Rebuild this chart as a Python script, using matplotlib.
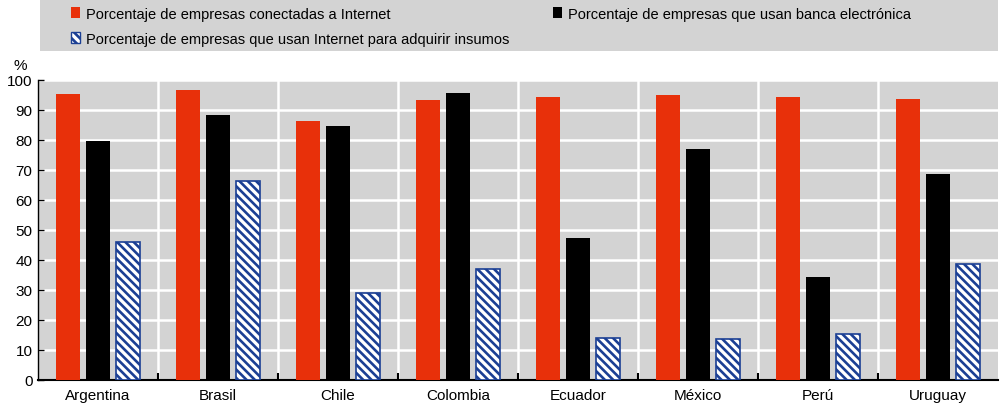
import matplotlib.pyplot as plt
import numpy as np
from matplotlib.patches import Patch, Rectangle

plt.rcParams['font.family'] = ['Liberation Sans', 'DejaVu Sans']

countries = ['Argentina', 'Brasil', 'Chile', 'Colombia', 'Ecuador', 'México', 'Perú', 'Uruguay']
conectadas = [95.2, 96.8, 86.4, 93.2, 94.3, 94.9, 94.3, 93.8]
banca = [79.8, 88.3, 84.6, 95.8, 47.2, 76.9, 34.3, 68.6]
insumos = [46.0, 66.2, 28.9, 37.1, 13.9, 13.5, 15.3, 38.6]

labels = ['Porcentaje de empresas conectadas a Internet',
          'Porcentaje de empresas que usan banca electrónica',
          'Porcentaje de empresas que usan Internet para adquirir insumos']

red = '#E8300A'
blue = '#1B3F94'
grey = '#D3D3D3'

fig = plt.figure(figsize=(10, 4.06), dpi=100)
ax = fig.add_axes([0.038, 0.0616, 0.96, 0.739])
ax.set_facecolor(grey)

x = np.arange(len(countries))
w = 0.2
plt.rcParams['hatch.linewidth'] = 1.9
ax.bar(x - 0.25, conectadas, w, color=red, zorder=3)
ax.bar(x, banca, w, color='black', zorder=3)
ax.bar(x + 0.25, insumos, w, color='white', edgecolor=blue, hatch='\\\\\\\\', linewidth=1.2, zorder=3)

ax.set_xlim(-0.5, len(countries) - 0.5)
ax.set_ylim(0, 100)
ax.set_yticks(range(0, 101, 10))
ax.set_xticks(x)
ax.set_xticklabels(countries, fontsize=11)
ax.tick_params(axis='x', which='major', length=0, pad=6)
ax.set_xticks(np.arange(0.5, len(countries) - 0.5, 1), minor=True)
ax.tick_params(axis='x', which='minor', direction='in', length=5, width=1.5)
ax.tick_params(axis='y', direction='in', length=4, width=1, labelsize=11, pad=4)

ax.grid(axis='y', color='white', linewidth=1.8, zorder=1)
for b in np.arange(0.5, len(countries) - 0.5, 1):
    ax.axvline(b, color='white', linewidth=1.8, zorder=1)

for s in ['top', 'right']:
    ax.spines[s].set_visible(False)
ax.spines['bottom'].set_linewidth(1.5)
ax.spines['left'].set_linewidth(1.0)

fig.text(0.013, 1 - 66 / 406, '%', fontsize=11, ha='left', va='center')

# grey legend band
fig.patches.append(Rectangle((0.04, 1 - 52 / 406), 0.958, 52 / 406,
                             transform=fig.transFigure, facecolor=grey, edgecolor='none', zorder=0))

handles = [Patch(facecolor=red),
           Patch(facecolor='white', edgecolor=blue, hatch='\\\\\\\\'),
           Patch(facecolor='black')]
leg_labels = [labels[0], labels[2], labels[1]]
leg = fig.legend(handles, leg_labels, ncol=2, loc='lower left',
                 bbox_to_anchor=(0.066, 1 - 52 / 406, 0.85, 52 / 406),
                 mode='expand', fontsize=10.5, frameon=False,
                 handlelength=0.6, handleheight=0.8, handletextpad=0.4,
                 borderaxespad=0, borderpad=0.35, labelspacing=0.75, columnspacing=1.0)

fig.savefig('out.png', dpi=100)
